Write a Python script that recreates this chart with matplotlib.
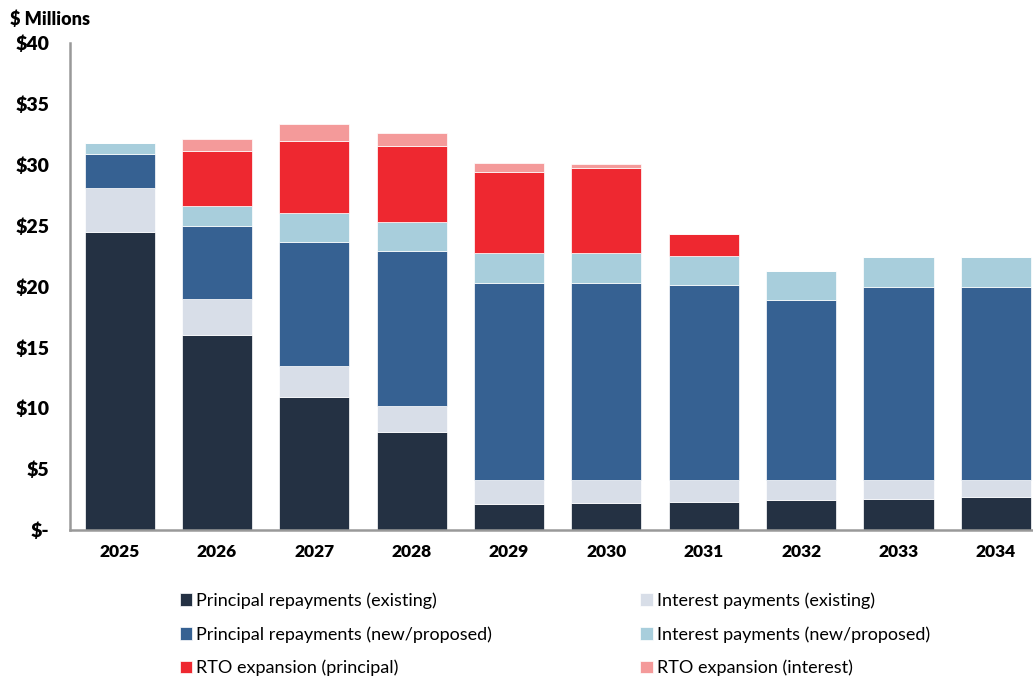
import matplotlib.pyplot as plt
import numpy as np

plt.rcParams['font.family'] = ['Lato', 'DejaVu Sans']

years = ["2025", "2026", "2027", "2028", "2029", "2030", "2031", "2032", "2033", "2034"]
principal_existing = [24.45, 16.0, 10.96, 8.02, 2.10, 2.21, 2.32, 2.43, 2.57, 2.70]
interest_existing = [3.6, 2.98, 2.5, 2.18, 1.97, 1.86, 1.75, 1.64, 1.5, 1.37]
principal_new = [2.83, 6.0, 10.17, 12.69, 16.23, 16.23, 16.07, 14.81, 15.9, 15.9]
interest_new = [0.9, 1.64, 2.4, 2.38, 2.49, 2.46, 2.4, 2.43, 2.49, 2.49]
rto_principal = [0, 4.53, 5.92, 6.26, 6.58, 6.97, 1.8, 0, 0, 0]
rto_interest = [0, 0.94, 1.42, 1.1, 0.74, 0.35, 0, 0, 0, 0]

series = [
    ("Principal repayments (existing)", principal_existing, "#243143"),
    ("Interest payments (existing)", interest_existing, "#D8DEE8"),
    ("Principal repayments (new/proposed)", principal_new, "#366192"),
    ("Interest payments (new/proposed)", interest_new, "#A8CEDC"),
    ("RTO expansion (principal)", rto_principal, "#EE2830"),
    ("RTO expansion (interest)", rto_interest, "#F49A9A"),
]

fig = plt.figure(figsize=(10.33, 6.78), dpi=100)
ax = fig.add_axes([0.0678, 0.2183, 0.932, 0.7183])

x = np.arange(len(years))
bottom = np.zeros(len(years))
handles = []
for label, vals, color in series:
    vals = np.array(vals)
    b = ax.bar(x, vals, 0.72, bottom=bottom, color=color, edgecolor="white",
               linewidth=0.5, label=label)
    handles.append(b)
    bottom += vals

ax.set_ylim(0, 40)
ax.set_xlim(-0.51, 9.38)
ax.set_yticks(range(0, 41, 5))
ax.set_yticklabels(["$-"] + ["$%d" % v for v in range(5, 41, 5)],
                   fontsize=14, fontweight="heavy")
ax.set_xticks(x)
ax.set_xticklabels(years, fontsize=12.5, fontweight="heavy")
ax.tick_params(axis="x", length=0, pad=10)
ax.tick_params(axis="y", length=0, pad=15)
for s in ["top", "right"]:
    ax.spines[s].set_visible(False)
for s in ["left", "bottom"]:
    ax.spines[s].set_color("#999999")
    ax.spines[s].set_linewidth(1.8)

fig.text(0.01, 0.972, "$ Millions", fontsize=13, fontweight="heavy", va="center")

leg_kw = dict(frameon=False, fontsize=13, handlelength=0.7, handleheight=0.7,
              handletextpad=0.2, labelspacing=0.95, borderaxespad=0)
leg1 = fig.legend([handles[0], handles[2], handles[4]],
                  [series[0][0], series[2][0], series[4][0]],
                  loc="upper left", bbox_to_anchor=(0.167, 0.137), **leg_kw)
leg2 = fig.legend([handles[1], handles[3], handles[5]],
                  [series[1][0], series[3][0], series[5][0]],
                  loc="upper left", bbox_to_anchor=(0.613, 0.137), **leg_kw)

fig.savefig("out.png", dpi=100)
